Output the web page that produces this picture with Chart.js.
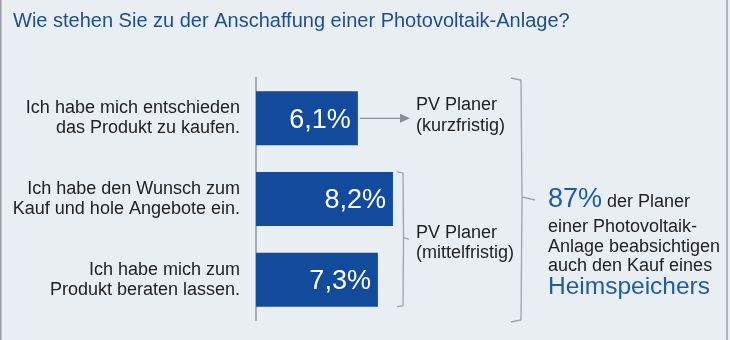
<!DOCTYPE html>
<html>
<head>
<meta charset="utf-8">
<script src="https://cdn.jsdelivr.net/npm/chart.js@4/dist/chart.umd.min.js"></script>
<style>
  html, body { margin: 0; padding: 0; background: #e9eef3; }
  canvas { display: block; }
</style>
</head>
<body>
<canvas id="pvChart" width="730" height="340"></canvas>
<script>
const title = 'Wie stehen Sie zu der Anschaffung einer Photovoltaik-Anlage?';
const categories = [
    ['Ich habe mich entschieden', 'das Produkt zu kaufen.'],
    ['Ich habe den Wunsch zum', 'Kauf und hole Angebote ein.'],
    ['Ich habe mich zum', 'Produkt beraten lassen.']
];
const shares = [6.1, 8.2, 7.3];
const groupLabels = [
    ['PV Planer', '(kurzfristig)'],
    ['PV Planer', '(mittelfristig)']
];
const summaryShare = '87%';
const summaryLines = ['der Planer', 'einer Photovoltaik-', 'Anlage beabsichtigen', 'auch den Kauf eines', 'Heimspeichers'];

const FONT = "'Liberation Sans', Arial, sans-serif";
const BLUE = '#124a9c';
const TEXT = '#222222';
const LINE = '#9ea3a9';

const fmt = v => v.toFixed(1).replace('.', ',') + '%';

const annotations = {
    id: 'annotations',
    afterDatasetsDraw(chart) {
        const ctx = chart.ctx;
        const bars = chart.getDatasetMeta(0).data;
        ctx.save();

        // frame
        ctx.strokeStyle = '#9aa0a6';
        ctx.lineWidth = 1.5;
        ctx.beginPath();
        ctx.moveTo(0.75, 0); ctx.lineTo(0.75, 340);
        ctx.moveTo(727, 0); ctx.lineTo(727, 340);
        ctx.stroke();

        // title
        ctx.font = '20px ' + FONT;
        ctx.fillStyle = '#1f4e8f';
        ctx.textAlign = 'left';
        ctx.textBaseline = 'alphabetic';
        ctx.fillText(title, 13, 27);

        // values inside bars
        ctx.font = '27px ' + FONT;
        ctx.fillStyle = '#ffffff';
        ctx.textAlign = 'right';
        ctx.textBaseline = 'middle';
        bars.forEach((bar, i) => {
            ctx.fillText(fmt(shares[i]), bar.x - 7, bar.y + 2);
        });

        // arrow from first bar
        const b0 = bars[0];
        ctx.strokeStyle = '#8a8f95';
        ctx.fillStyle = '#8a8f95';
        ctx.lineWidth = 1.2;
        ctx.beginPath();
        ctx.moveTo(b0.x + 2, b0.y);
        ctx.lineTo(402, b0.y);
        ctx.stroke();
        ctx.beginPath();
        ctx.moveTo(410, b0.y);
        ctx.lineTo(400, b0.y - 4.5);
        ctx.lineTo(400, b0.y + 4.5);
        ctx.closePath();
        ctx.fill();

        // group labels
        ctx.font = '18px ' + FONT;
        ctx.fillStyle = TEXT;
        ctx.textAlign = 'left';
        ctx.textBaseline = 'alphabetic';
        ctx.fillText(groupLabels[0][0], 416, 110);
        ctx.fillText(groupLabels[0][1], 416, 131);

        // small bracket around bars 2 and 3
        const top = bars[1].y - bars[1].height / 2;
        const bot = bars[2].y + bars[2].height / 2;
        const mid = (top + bot) / 2;
        ctx.strokeStyle = LINE;
        ctx.lineWidth = 1.3;
        ctx.beginPath();
        ctx.moveTo(397, top); ctx.lineTo(403, top + 1);
        ctx.lineTo(403.5, mid - 2); ctx.lineTo(409, mid);
        ctx.moveTo(403.5, mid + 2); ctx.lineTo(403, bot - 1); ctx.lineTo(397, bot);
        ctx.moveTo(403.5, mid - 2); ctx.lineTo(403.5, mid + 2);
        ctx.stroke();
        ctx.fillText(groupLabels[1][0], 416, mid - 1);
        ctx.fillText(groupLabels[1][1], 416, mid + 19);

        // big bracket
        const bTop = chart.chartArea.top, bBot = chart.chartArea.bottom + 2;
        const bMid = (bTop + bBot) / 2;
        ctx.beginPath();
        ctx.moveTo(511, bTop); ctx.lineTo(521, bTop + 2);
        ctx.lineTo(522, bMid - 3); ctx.lineTo(535, bMid);
        ctx.moveTo(522, bMid - 3); ctx.lineTo(522, bMid + 3);
        ctx.lineTo(521, bBot - 2); ctx.lineTo(511, bBot);
        ctx.stroke();

        // summary text
        ctx.fillStyle = '#1d5ca6';
        ctx.font = '27px ' + FONT;
        ctx.fillText(summaryShare, 548, 207);
        const w = ctx.measureText(summaryShare).width;
        ctx.fillStyle = TEXT;
        ctx.font = '18px ' + FONT;
        ctx.fillText(summaryLines[0], 548 + w + 5, 207);
        ctx.fillText(summaryLines[1], 548, 232);
        ctx.fillText(summaryLines[2], 548, 252);
        ctx.fillText(summaryLines[3], 548, 271);
        ctx.fillStyle = '#1d5ca6';
        ctx.font = '24.5px ' + FONT;
        ctx.fillText(summaryLines[4], 548, 294);

        ctx.restore();
    }
};

new Chart(document.getElementById('pvChart'), {
    type: 'bar',
    data: {
        labels: categories,
        datasets: [{
            data: shares,
            backgroundColor: BLUE,
            borderWidth: 0,
            barPercentage: 0.67,
            categoryPercentage: 1
        }]
    },
    options: {
        indexAxis: 'y',
        responsive: false,
        devicePixelRatio: 1,
        animation: false,
        layout: { padding: { top: 78, bottom: 20, left: 0, right: 140 } },
        plugins: {
            legend: { display: false },
            tooltip: { enabled: false }
        },
        scales: {
            x: { display: false, min: 0, max: 20 },
            y: {
                grid: { display: false, drawTicks: false },
                border: { display: true, color: '#a8adb3', width: 2 },
                ticks: {
                    color: TEXT,
                    padding: 16,
                    font: { family: FONT, size: 18, lineHeight: 1.1 }
                },
                afterFit: scale => {
                    scale.width = 256;
                    scale.paddingTop = 0;
                    scale.paddingBottom = 0;
                }
            }
        }
    },
    plugins: [annotations]
});
</script>
</body>
</html>
